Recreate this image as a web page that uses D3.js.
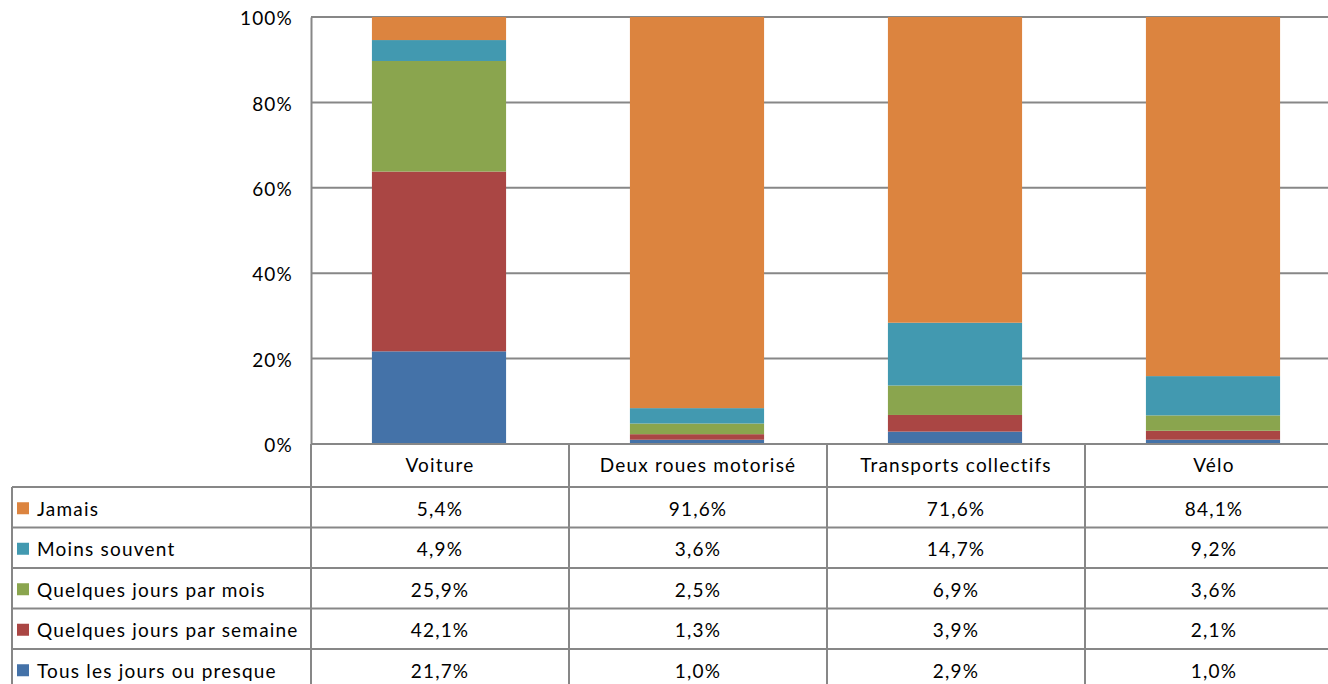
<!DOCTYPE html>
<html>
<head>
<meta charset="utf-8">
<script src="https://cdn.jsdelivr.net/npm/d3@7"></script>
<style>
  body { margin: 0; background: #fff; }
  text { font-family: Lato, "Open Sans", sans-serif; fill: #000; font-size: 19px; letter-spacing: 1.2px; }
</style>
</head>
<body>
<div id="chart"></div>
<script>
const categories = ['Voiture', 'Deux roues motorisé', 'Transports collectifs', 'Vélo'];
// stacked from bottom to top
const seriesNames = ['Tous les jours ou presque', 'Quelques jours par semaine', 'Quelques jours par mois', 'Moins souvent', 'Jamais'];
const seriesColors = ['#4472a8', '#aa4644', '#8aa54e', '#4299b0', '#dc843f'];
const tousLesJours = [21.7, 1.0, 2.9, 1.0];
const parSemaine = [42.1, 1.3, 3.9, 2.1];
const parMois = [25.9, 2.5, 6.9, 3.6];
const moinsSouvent = [4.9, 3.6, 14.7, 9.2];
const jamais = [5.4, 91.6, 71.6, 84.1];
const yTicks = [0, 20, 40, 60, 80, 100];

const seriesValues = [tousLesJours, parSemaine, parMois, moinsSouvent, jamais];
const rows = categories.map((c, i) => {
  const r = { cat: c };
  seriesNames.forEach((s, j) => { r[s] = seriesValues[j][i]; });
  return r;
});

const width = 1328, height = 684;
const plotLeft = 311, plotTop = 17, plotBottom = 444;
const colW = 258;
const headerH = 43, rowH = 40.5;
const tableLeft = 12;
const grid = '#878787';

const svg = d3.select('#chart').append('svg')
  .attr('width', width)
  .attr('height', height);

const x = d3.scaleBand()
  .domain(categories)
  .range([plotLeft, plotLeft + colW * categories.length])
  .paddingInner(0.48)
  .paddingOuter(0.24);

const y = d3.scaleLinear().domain([0, 100]).range([plotBottom, plotTop]);

// gridlines
svg.append('g')
  .selectAll('line')
  .data(yTicks.filter(t => t > 0))
  .enter().append('line')
  .attr('x1', plotLeft).attr('x2', width)
  .attr('y1', d => y(d)).attr('y2', d => y(d))
  .attr('stroke', grid).attr('stroke-width', 2);

// bars
const stack = d3.stack().keys(seriesNames)(rows);
svg.append('g')
  .selectAll('g')
  .data(stack)
  .enter().append('g')
  .attr('fill', (d, i) => seriesColors[i])
  .selectAll('rect')
  .data(d => d)
  .enter().append('rect')
  .attr('x', d => x(d.data.cat) - 1)
  .attr('width', x.bandwidth())
  .attr('y', d => y(d[1]))
  .attr('height', d => y(d[0]) - y(d[1]));

// y axis
const yAxis = svg.append('g')
  .attr('transform', `translate(${plotLeft},0)`)
  .call(d3.axisLeft(y).tickValues(yTicks).tickSize(0).tickPadding(18).tickFormat(d => d + '%'));
yAxis.select('.domain').attr('stroke', grid).attr('stroke-width', 2);
yAxis.attr('font-size', null).attr('font-family', null);
yAxis.selectAll('text').attr('dy', '0.4em');

// table
const tbl = svg.append('g');
const tableBottom = plotBottom + headerH + rowH * seriesNames.length;
const legendOrder = seriesNames.slice().reverse();
const valuesOrder = seriesValues.slice().reverse();
const colorsOrder = seriesColors.slice().reverse();
const fmt = v => v.toFixed(1).replace('.', ',') + '%';

// horizontal lines
tbl.append('line')
  .attr('x1', plotLeft).attr('x2', width)
  .attr('y1', plotBottom).attr('y2', plotBottom)
  .attr('stroke', grid).attr('stroke-width', 2);
tbl.selectAll('.hrow')
  .data(d3.range(seriesNames.length + 1))
  .enter().append('line')
  .attr('x1', tableLeft).attr('x2', width)
  .attr('y1', i => plotBottom + headerH + i * rowH)
  .attr('y2', i => plotBottom + headerH + i * rowH)
  .attr('stroke', grid).attr('stroke-width', 2);
// vertical lines
tbl.selectAll('.vcol')
  .data(d3.range(categories.length + 1))
  .enter().append('line')
  .attr('x1', i => plotLeft + i * colW).attr('x2', i => plotLeft + i * colW)
  .attr('y1', plotBottom).attr('y2', tableBottom)
  .attr('stroke', grid).attr('stroke-width', 2);
tbl.append('line')
  .attr('x1', tableLeft).attr('x2', tableLeft)
  .attr('y1', plotBottom + headerH).attr('y2', tableBottom)
  .attr('stroke', grid).attr('stroke-width', 2);

// header
tbl.selectAll('.hdr')
  .data(categories)
  .enter().append('text')
  .attr('x', d => x(d) + x.bandwidth() / 2)
  .attr('y', plotBottom + headerH / 2)
  .attr('dy', '0.35em')
  .attr('text-anchor', 'middle')
  .text(d => d);

// legend cells
const legRows = tbl.selectAll('.leg')
  .data(legendOrder)
  .enter().append('g')
  .attr('transform', (d, i) => `translate(0,${plotBottom + headerH + i * rowH + rowH / 2})`);
legRows.append('rect')
  .attr('x', 17).attr('y', -5).attr('width', 12).attr('height', 12)
  .attr('fill', (d, i) => colorsOrder[i]);
legRows.append('text')
  .attr('x', 37).attr('dy', '0.45em')
  .text(d => d);
legRows.each(function(d, i) {
  d3.select(this).selectAll('.val')
    .data(valuesOrder[i])
    .enter().append('text')
    .attr('x', (v, j) => x(categories[j]) + x.bandwidth() / 2)
    .attr('dy', '0.45em')
    .attr('text-anchor', 'middle')
    .text(v => fmt(v));
});
</script>
</body>
</html>
